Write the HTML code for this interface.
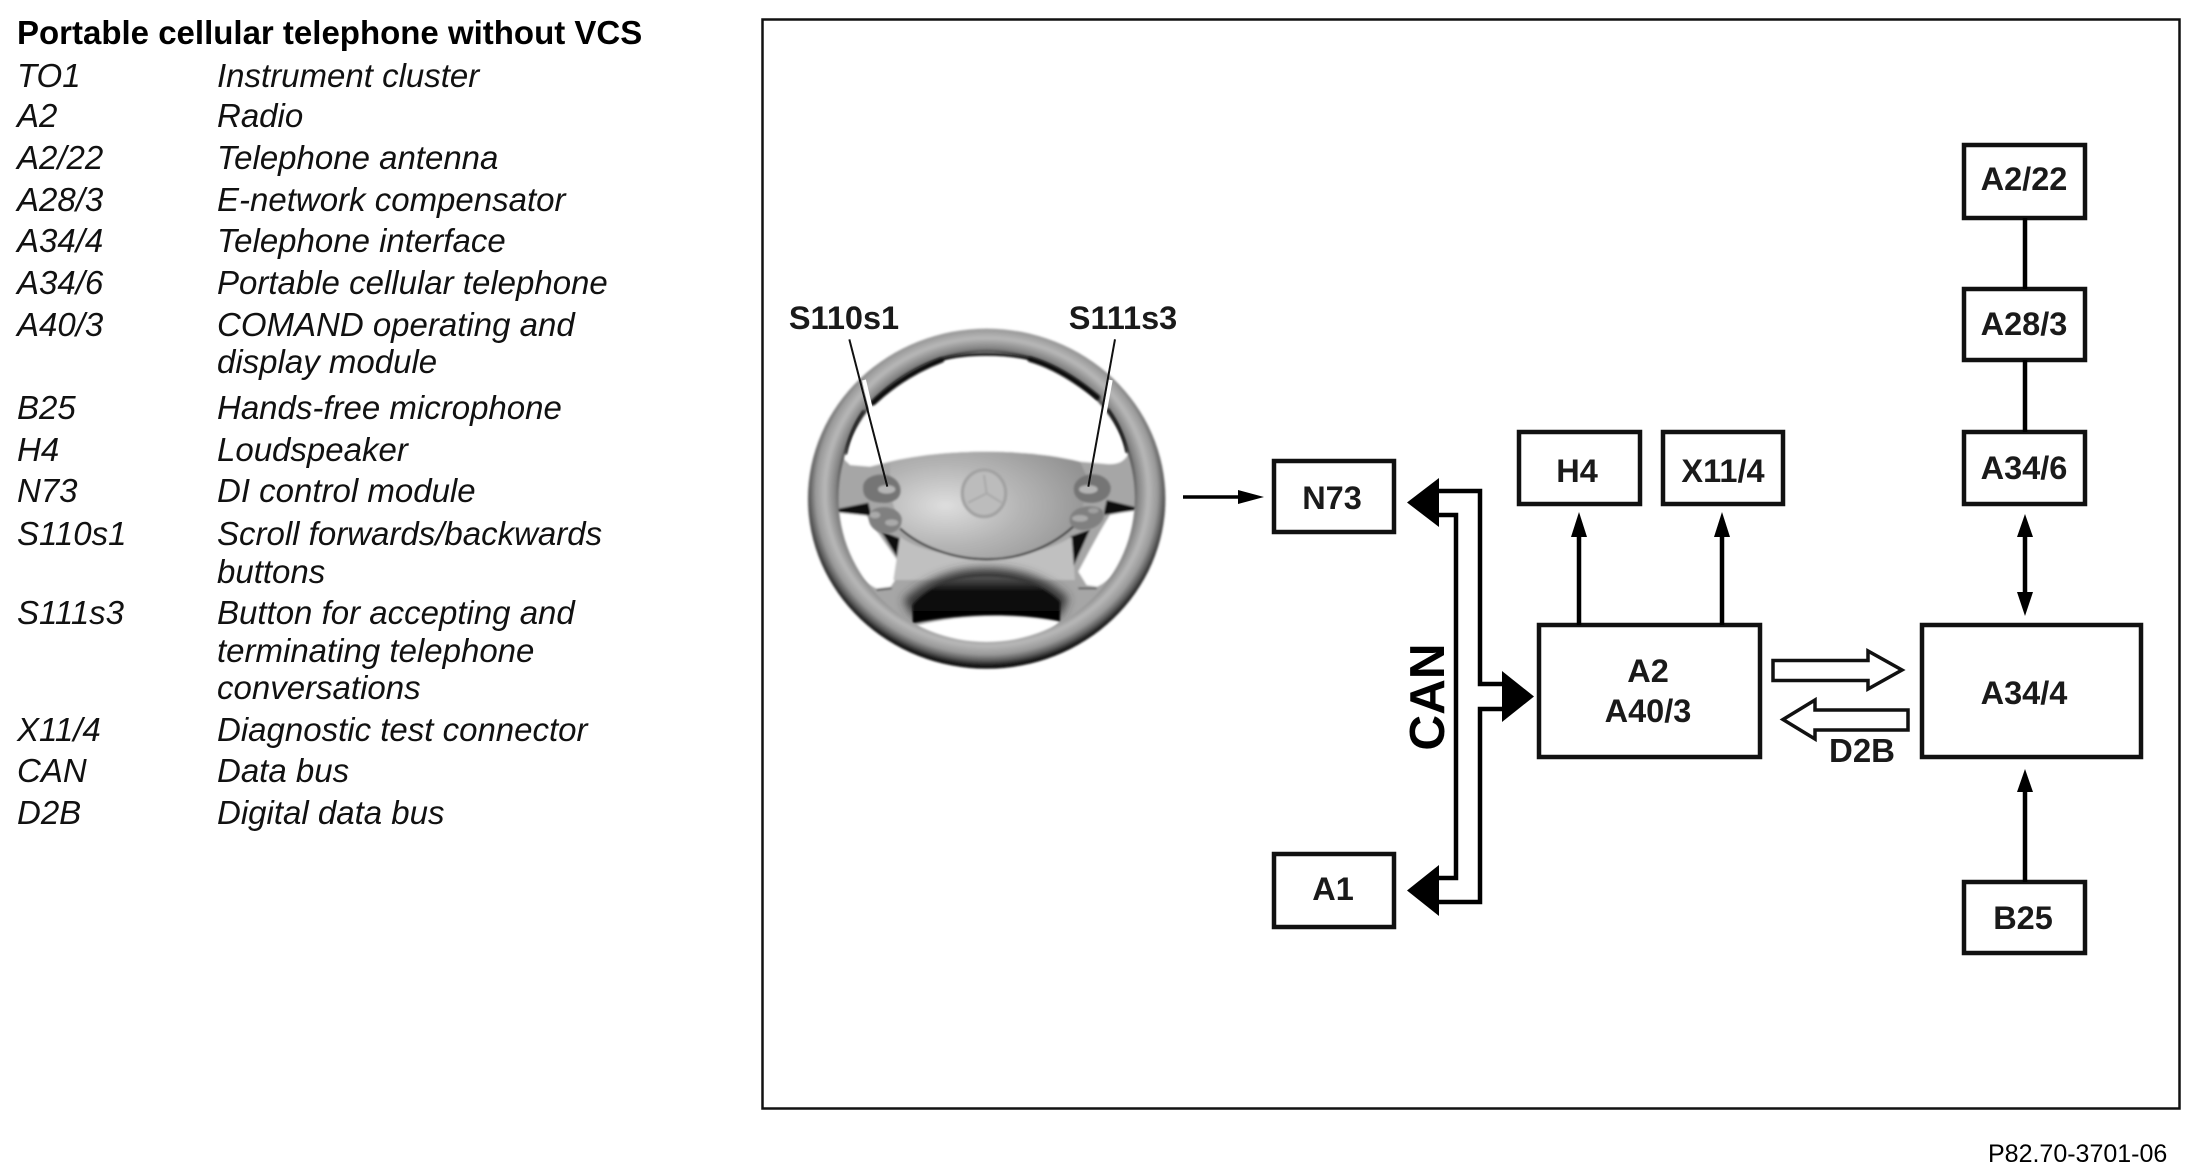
<!DOCTYPE html>
<html>
<head>
<meta charset="utf-8">
<style>
html,body{margin:0;padding:0;background:#fff;width:2188px;height:1176px;overflow:hidden}
svg{display:block}
text{font-family:"Liberation Sans",Arial,sans-serif;fill:#000}
.l{font-size:33px;font-style:italic;fill:#111}
.b{font-size:32.5px;font-weight:bold;text-anchor:middle;fill:#1a1a1a}
.box{fill:#fff;stroke:#111;stroke-width:4.5}
.ln{stroke:#000;stroke-width:4.5;fill:none}
</style>
</head>
<body>
<svg width="2188" height="1176" viewBox="0 0 2188 1176" xmlns="http://www.w3.org/2000/svg">
<defs>
<radialGradient id="rim" cx="50%" cy="48%" r="52%">
<stop offset="0.775" stop-color="#111"/>
<stop offset="0.81" stop-color="#808080"/>
<stop offset="0.87" stop-color="#b8b8b8"/>
<stop offset="0.92" stop-color="#999"/>
<stop offset="0.955" stop-color="#5a5a5a"/>
<stop offset="0.98" stop-color="#1c1c1c"/>
<stop offset="1" stop-color="#000"/>
</radialGradient>
<radialGradient id="bag" cx="28%" cy="50%" r="75%">
<stop offset="0" stop-color="#dedede"/>
<stop offset="0.5" stop-color="#b5b5b5"/>
<stop offset="1" stop-color="#939393"/>
</radialGradient>
<linearGradient id="blk" x1="0" y1="0" x2="0" y2="1">
<stop offset="0" stop-color="#555"/>
<stop offset="0.3" stop-color="#111"/>
<stop offset="1" stop-color="#000"/>
</linearGradient>
<filter id="s1" x="-10%" y="-10%" width="120%" height="120%"><feGaussianBlur stdDeviation="3.5"/></filter>
<filter id="s2" x="-20%" y="-30%" width="140%" height="160%"><feGaussianBlur stdDeviation="14"/></filter>
</defs>

<!-- legend -->
<text x="17" y="44" style="font-size:33px;font-weight:bold">Portable cellular telephone without VCS</text>
<g>
<text class="l" x="17" y="87">TO1</text><text class="l" x="217" y="87">Instrument cluster</text>
<text class="l" x="17" y="127">A2</text><text class="l" x="217" y="127">Radio</text>
<text class="l" x="17" y="169">A2/22</text><text class="l" x="217" y="169">Telephone antenna</text>
<text class="l" x="17" y="211">A28/3</text><text class="l" x="217" y="211">E-network compensator</text>
<text class="l" x="17" y="252">A34/4</text><text class="l" x="217" y="252">Telephone interface</text>
<text class="l" x="17" y="294">A34/6</text><text class="l" x="217" y="294">Portable cellular telephone</text>
<text class="l" x="17" y="336">A40/3</text><text class="l" x="217" y="336">COMAND operating and</text>
<text class="l" x="217" y="373">display module</text>
<text class="l" x="17" y="419">B25</text><text class="l" x="217" y="419">Hands-free microphone</text>
<text class="l" x="17" y="461">H4</text><text class="l" x="217" y="461">Loudspeaker</text>
<text class="l" x="17" y="502">N73</text><text class="l" x="217" y="502">DI control module</text>
<text class="l" x="17" y="545">S110s1</text><text class="l" x="217" y="545">Scroll forwards/backwards</text>
<text class="l" x="217" y="583">buttons</text>
<text class="l" x="17" y="624">S111s3</text><text class="l" x="217" y="624">Button for accepting and</text>
<text class="l" x="217" y="662">terminating telephone</text>
<text class="l" x="217" y="699">conversations</text>
<text class="l" x="17" y="741">X11/4</text><text class="l" x="217" y="741">Diagnostic test connector</text>
<text class="l" x="17" y="782">CAN</text><text class="l" x="217" y="782">Data bus</text>
<text class="l" x="17" y="824">D2B</text><text class="l" x="217" y="824">Digital data bus</text>
</g>

<!-- frame -->
<rect x="762.5" y="19.5" width="1417" height="1089" fill="#fff" stroke="#111" stroke-width="2.5"/>

<!-- steering wheel -->
<g transform="translate(760,280) scale(0.33333)">
<g filter="url(#s1)">
<ellipse cx="680" cy="656" rx="480" ry="470" fill="#a6a6a6"/>
<path d="M240,520 C260,450 300,380 335,340 C440,240 550,190 660,190 C790,190 930,250 1030,340 C1070,385 1110,460 1105,520 C1095,545 1070,555 1040,552 L960,545 C800,505 560,505 390,545 L330,560 L270,555 C262,545 245,535 240,520 Z" fill="#fff"/>
<path d="M215,690 L315,700 C360,770 395,815 428,865 L392,920 L350,925 C290,900 225,800 215,690 Z" fill="#fff"/>
<path d="M1145,685 L1050,705 C1010,770 985,820 955,875 L980,915 L1012,920 C1090,880 1135,780 1145,685 Z" fill="#fff"/>
<path d="M225,688 L325,668 L335,708 L232,697 Z" fill="#0a0a0a"/>
<path d="M1130,682 L1040,660 L1030,705 L1125,692 Z" fill="#0a0a0a"/>
<path d="M362,752 L420,775 L436,872 Z" fill="#0a0a0a"/>
<path d="M990,748 L930,770 L932,878 Z" fill="#0a0a0a"/>
<path d="M420,770 C520,850 820,850 935,770 L945,900 L400,900 Z" fill="#c0c0c0"/>
<path d="M395,925 L350,930 M955,925 L1010,925" stroke="#444" stroke-width="5" fill="none"/>
<path d="M390,545 C560,505 800,505 960,545 L985,600 L960,720 C880,800 780,838 680,838 C580,838 480,800 420,745 L390,640 Z" fill="url(#bag)"/>
<path d="M420,745 C480,800 580,838 680,838 C780,838 880,800 950,730" fill="none" stroke="#222" stroke-width="6"/>
</g>
<path d="M430,960 C510,885 600,865 680,865 C770,865 860,890 925,955 L900,1010 L460,1010 Z" fill="#333" filter="url(#s2)"/>
<path d="M458,975 C520,905 600,890 680,890 C770,890 850,915 900,965 L900,1024 C760,996 600,1000 458,1030 Z" fill="url(#blk)" filter="url(#s1)"/>
<path d="M470,1036 C600,1002 760,998 898,1026 C830,1098 740,1110 680,1110 C600,1110 520,1095 470,1036 Z" fill="#fff" filter="url(#s1)"/>
<g filter="url(#s1)" fill="none" stroke="#a0a0a0" stroke-width="9">
<ellipse cx="672" cy="640" rx="65" ry="70" fill="#bcbcbc"/>
<path d="M672,585 L680,640 L625,668 M680,640 L725,668" stroke="#a8a8a8" stroke-width="6"/>
</g>
<g filter="url(#s1)">
<path d="M310,615 C320,575 405,570 420,620 C430,660 390,672 360,668 C325,665 305,650 310,615 Z" fill="#757575"/>
<path d="M328,705 C335,672 415,672 425,715 C428,750 395,765 370,760 C340,752 322,735 328,705 Z" fill="#808080"/>
<path d="M942,620 C955,572 1040,570 1052,620 C1055,660 1010,672 985,668 C960,665 938,650 942,620 Z" fill="#757575"/>
<path d="M930,712 C940,672 1025,668 1032,700 C1035,735 985,755 960,750 C940,745 925,735 930,712 Z" fill="#808080"/>
<ellipse cx="380" cy="628" rx="26" ry="13" fill="#b5b5b5"/>
<ellipse cx="345" cy="705" rx="16" ry="10" fill="#aaa"/>
<ellipse cx="395" cy="728" rx="20" ry="10" fill="#aaa"/>
<ellipse cx="985" cy="628" rx="28" ry="13" fill="#b5b5b5"/>
<ellipse cx="960" cy="715" rx="24" ry="10" fill="#aaa"/>
<ellipse cx="1000" cy="692" rx="16" ry="8" fill="#a0a0a0"/>
</g>
<path fill-rule="evenodd" filter="url(#s1)" fill="url(#rim)" d="M144,656 A536,510 0 1,0 1216,656 A536,510 0 1,0 144,656 Z M235,652 A445,434 0 1,1 1125,652 A445,434 0 1,1 235,652 Z"/>
<!-- dark inner shading of the rim -->
<g filter="url(#s1)" fill="none" stroke="#0c0c0c" stroke-linecap="round">
<path d="M340,368 C400,312 470,268 545,240" stroke-width="16"/>
<path d="M1012,352 C950,302 880,258 810,238" stroke-width="16"/>
<path d="M545,238 C620,218 730,218 810,236" stroke-width="9"/>
<path d="M258,520 C268,470 285,430 310,395" stroke-width="7"/>
<path d="M1100,515 C1090,465 1070,425 1045,390" stroke-width="8"/>
</g>
<path d="M312,300 L338,410" stroke="#fff" stroke-width="12" fill="none"/>
<path d="M1052,300 L1030,420" stroke="#fff" stroke-width="12" fill="none"/>
<path d="M268,178 L382,620" stroke="#111" stroke-width="6" fill="none"/>
<path d="M1065,178 L985,620" stroke="#111" stroke-width="6" fill="none"/>
</g>
<text class="b" x="844" y="329">S110s1</text>
<text class="b" x="1123" y="329">S111s3</text>

<!-- wheel -> N73 arrow -->
<path d="M1183,497 H1245" class="ln" style="stroke-width:3.5"/>
<path d="M1264,497 L1238,490 V504 Z" fill="#000"/>

<!-- boxes -->
<rect class="box" x="1274" y="461" width="120" height="71"/>
<rect class="box" x="1274" y="854" width="120" height="73"/>
<rect class="box" x="1519" y="432" width="121" height="72"/>
<rect class="box" x="1663" y="432" width="120" height="72"/>
<rect class="box" x="1539" y="625" width="221" height="132"/>
<rect class="box" x="1964" y="145" width="121" height="73"/>
<rect class="box" x="1964" y="289" width="121" height="71"/>
<rect class="box" x="1964" y="432" width="121" height="72"/>
<rect class="box" x="1922" y="625" width="219" height="132"/>
<rect class="box" x="1964" y="882" width="121" height="71"/>

<!-- box labels -->
<text class="b" x="1332" y="509">N73</text>
<text class="b" x="1333" y="900">A1</text>
<text class="b" x="1577" y="482">H4</text>
<text class="b" x="1723" y="482">X11/4</text>
<text class="b" x="1648" y="682">A2</text>
<text class="b" x="1648" y="722">A40/3</text>
<text class="b" x="2024" y="190">A2/22</text>
<text class="b" x="2024" y="335">A28/3</text>
<text class="b" x="2024" y="479">A34/6</text>
<text class="b" x="2024" y="704">A34/4</text>
<text class="b" x="2023" y="929">B25</text>
<text class="b" x="1862" y="762" style="font-size:33px">D2B</text>

<!-- CAN bus -->
<path class="ln" d="M1439,491 H1480 V684 H1502"/>
<path class="ln" d="M1439,515 H1456 V878 H1439"/>
<path class="ln" d="M1502,709 H1480 V902 H1439"/>
<path d="M1407,502.5 L1439,478 V527 Z" fill="#000"/>
<path d="M1407,890.5 L1439,865 V916 Z" fill="#000"/>
<path d="M1534,696.5 L1502,671 V722 Z" fill="#000"/>
<text transform="translate(1444,697) rotate(-90)" text-anchor="middle" style="font-size:49.5px;font-weight:bold" fill="#111">CAN</text>

<!-- up arrows -->
<path class="ln" d="M1579,625 V532"/>
<path d="M1579,512 L1571,537 H1587 Z" fill="#000"/>
<path class="ln" d="M1722,625 V532"/>
<path d="M1722,512 L1714,537 H1730 Z" fill="#000"/>

<!-- right column connectors -->
<path class="ln" d="M2025,218 V289"/>
<path class="ln" d="M2025,360 V432"/>
<path class="ln" d="M2025,530 V598"/>
<path d="M2025,514 L2017,537 H2033 Z" fill="#000"/>
<path d="M2025,616 L2017,592 H2033 Z" fill="#000"/>
<path class="ln" d="M2025,785 V882"/>
<path d="M2025,769 L2017,792 H2033 Z" fill="#000"/>

<!-- D2B hollow arrows -->
<path d="M1773,660.5 H1868 V651 L1902,670 L1868,689 V680.5 H1773 Z" fill="#fff" stroke="#111" stroke-width="3.5"/>
<path d="M1908,710 H1815 V700 L1783,719.5 L1815,739 V730 H1908 Z" fill="#fff" stroke="#111" stroke-width="3.5"/>

<!-- reference -->
<text x="1988" y="1162" style="font-size:25px" fill="#111">P82.70-3701-06</text>
</svg>
</body>
</html>
